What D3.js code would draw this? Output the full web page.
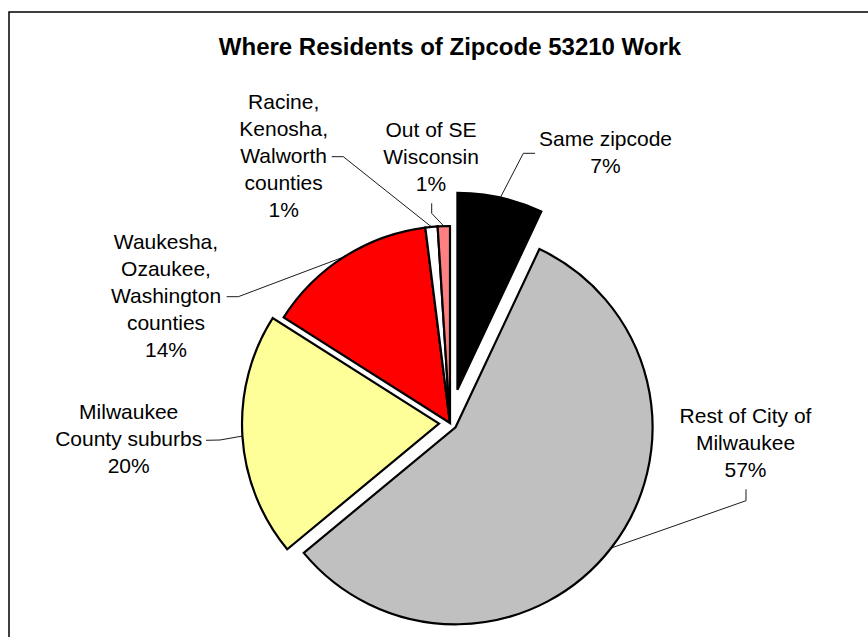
<!DOCTYPE html>
<html>
<head>
<meta charset="utf-8">
<script src="https://cdn.jsdelivr.net/npm/d3@7/dist/d3.min.js"></script>
<style>
  html, body { margin: 0; padding: 0; background: #fff; }
  svg { display: block; }
  text { font-family: "Liberation Sans", Arial, sans-serif; fill: #000; }
</style>
</head>
<body>
<svg id="chart" width="868" height="637"></svg>
<script>
// ---- data ----
const categories = [
  "Same zipcode",
  "Rest of City of Milwaukee",
  "Milwaukee County suburbs",
  "Waukesha, Ozaukee, Washington counties",
  "Racine, Kenosha, Walworth counties",
  "Out of SE Wisconsin"
];
const labelLines = [
  ["Same zipcode"],
  ["Rest of City of", "Milwaukee"],
  ["Milwaukee", "County suburbs"],
  ["Waukesha,", "Ozaukee,", "Washington", "counties"],
  ["Racine,", "Kenosha,", "Walworth", "counties"],
  ["Out of SE", "Wisconsin"]
];
const values = [7, 57, 20, 14, 1, 1];
const title = "Where Residents of Zipcode 53210 Work";

// ---- styles / layout ----
const colors = ["#000000", "#C0C0C0", "#FFFF99", "#FF0000", "#FFFFFF", "#FF8080"];
const explode = [34, 7, 11, 0, 0, 0];
const cx = 450, cy = 423, R = 197;
const lineH = 26.9;
// label anchor: center x, first baseline; leader: label-side point and elbow
const labelLayout = [
  { x: 605.5, y: 146,   lead: [[535, 153.3], [523.3, 153.3]] },
  { x: 745.5, y: 422.7, lead: [[746, 489.3], [746, 500.7]] },
  { x: 128.7, y: 419.3, lead: [[206, 440.3], [220, 440]] },
  { x: 166,   y: 249.3, lead: [[226.7, 296.7], [238.3, 296.7]] },
  { x: 283.7, y: 109,   lead: [[331.7, 156.7], [343.3, 156.7]] },
  { x: 431,   y: 136.7, lead: [[431.7, 203.3], [431.7, 213.3]] }
];

const svg = d3.select("#chart");

// frame
svg.append("rect")
  .attr("x", 9).attr("y", 12)
  .attr("width", 880).attr("height", 660)
  .attr("fill", "none").attr("stroke", "#000").attr("stroke-width", 1.5);

// title
svg.append("text")
  .attr("x", 450).attr("y", 55)
  .attr("text-anchor", "middle")
  .attr("font-weight", "bold")
  .attr("font-size", 24)
  .text(title);

const pie = d3.pie().sort(null).value(d => d).startAngle(0).endAngle(2 * Math.PI);
const arcs = pie(values);
const arc = d3.arc().innerRadius(0).outerRadius(R);

const g = svg.append("g").attr("transform", `translate(${cx},${cy})`);

function origin(d, i) {
  const mid = (d.startAngle + d.endAngle) / 2;
  return [explode[i] * Math.sin(mid), -explode[i] * Math.cos(mid)];
}

g.selectAll("path.slice")
  .data(arcs)
  .join("path")
  .attr("class", "slice")
  .attr("d", arc)
  .attr("transform", (d, i) => { const o = origin(d, i); return `translate(${o[0]},${o[1]})`; })
  .attr("fill", (d, i) => colors[i])
  .attr("stroke", "#000")
  .attr("stroke-width", 2.2)
  .attr("stroke-linejoin", "miter");

// leader lines
const line = d3.line();
arcs.forEach((d, i) => {
  const o = origin(d, i);
  const mid = (d.startAngle + d.endAngle) / 2;
  const end = [cx + o[0] + R * Math.sin(mid), cy + o[1] - R * Math.cos(mid)];
  const L = labelLayout[i];
  svg.append("path")
    .attr("d", line([L.lead[0], L.lead[1], end]))
    .attr("fill", "none")
    .attr("stroke", "#000")
    .attr("stroke-width", 0.9);
});

// labels
arcs.forEach((d, i) => {
  const L = labelLayout[i];
  const lines = labelLines[i].concat([values[i] + "%"]);
  const t = svg.append("text")
    .attr("text-anchor", "middle")
    .attr("font-size", 21);
  lines.forEach((s, k) => {
    t.append("tspan").attr("x", L.x).attr("y", L.y + k * lineH).text(s);
  });
});
</script>
</body>
</html>
